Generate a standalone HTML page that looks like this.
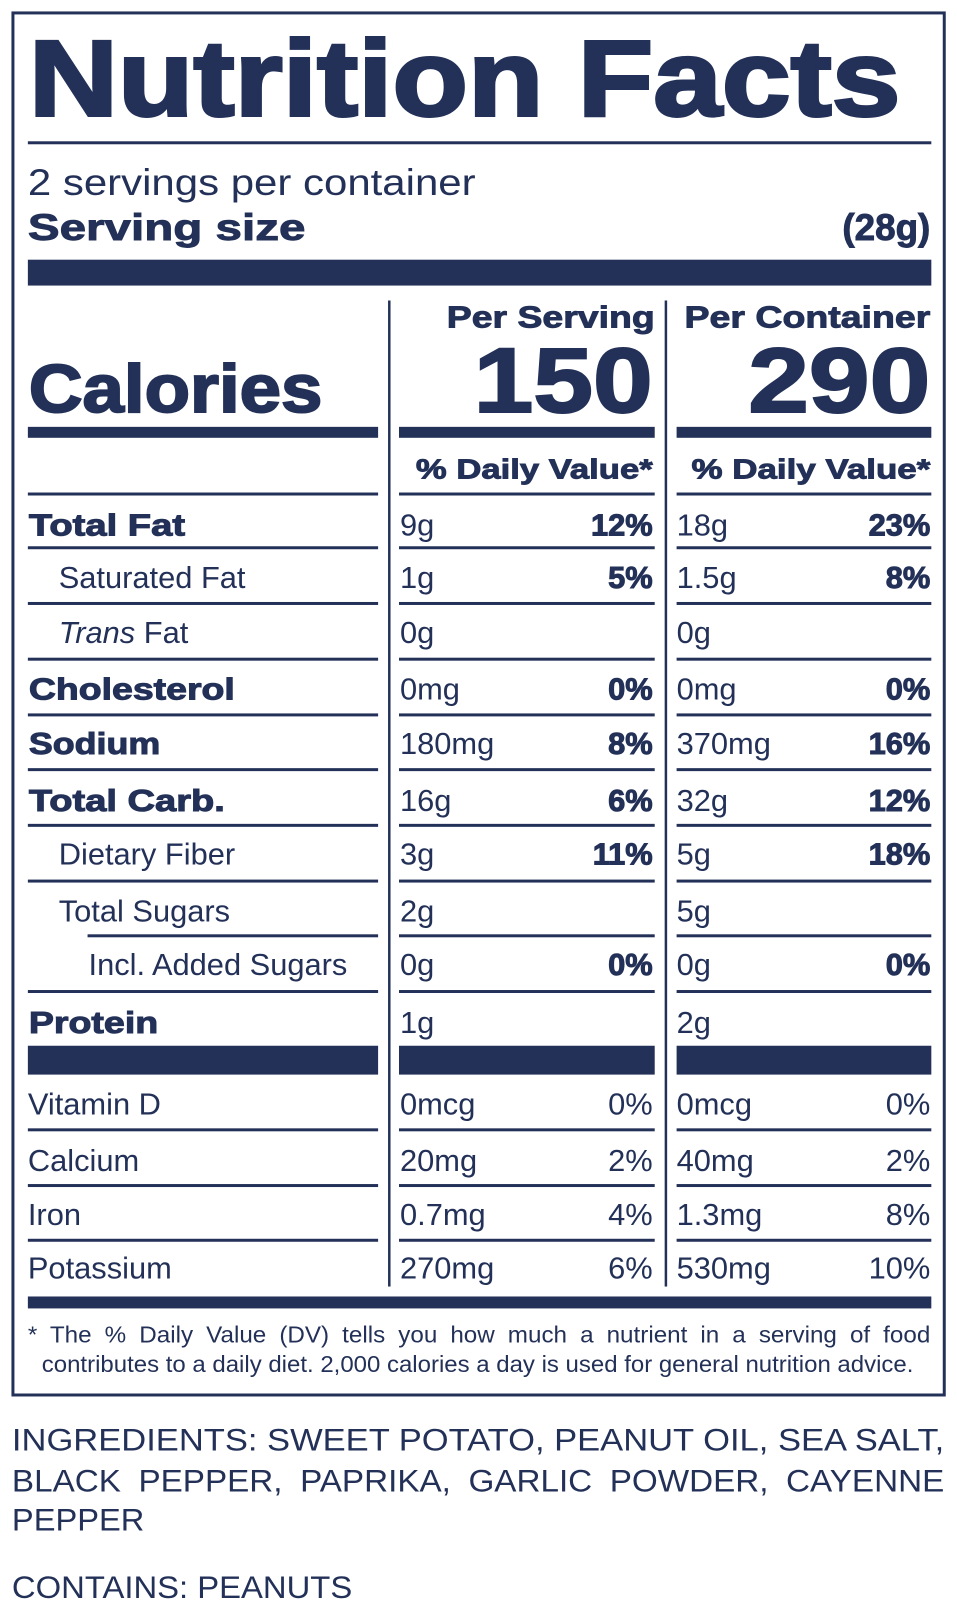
<!DOCTYPE html>
<html><head><meta charset="utf-8"><style>
html,body{margin:0;padding:0;background:#fff;}
svg{display:block;}
text{font-family:"Liberation Sans",Arial,sans-serif;fill:#233158;}
.b{font-weight:bold;stroke:#233158;stroke-width:0.9;}
.r{font-size:31px;}
.bb{font-size:31px;font-weight:bold;stroke:#233158;stroke-width:1;}
</style></head><body>
<svg width="957" height="1612" viewBox="0 0 957 1612" xmlns="http://www.w3.org/2000/svg">
<g transform="scale(0.995)">
<rect x="13" y="13" width="936" height="1389" fill="none" stroke="#233158" stroke-width="3"/>
<text x="29" y="116" font-size="108" font-weight="bold" stroke="#233158" stroke-width="3" textLength="876" lengthAdjust="spacingAndGlyphs">Nutrition Facts</text>
<rect x="28" y="142" width="908" height="3" fill="#233158"/>
<text x="28" y="196" font-size="37" textLength="450" lengthAdjust="spacingAndGlyphs">2 servings per container</text>
<text x="28" y="241" font-size="37" class="b" textLength="279" lengthAdjust="spacingAndGlyphs">Serving size</text>
<text x="935" y="241" font-size="37" class="b" text-anchor="end">(28g)</text>
<rect x="28" y="261" width="908" height="26" fill="#233158"/>
<rect x="390" y="302" width="2.5" height="991" fill="#233158"/>
<rect x="668" y="302" width="2.5" height="991" fill="#233158"/>
<text x="449" y="329" font-size="31" class="b" textLength="209" lengthAdjust="spacingAndGlyphs">Per Serving</text>
<text x="688" y="329" font-size="31" class="b" textLength="247" lengthAdjust="spacingAndGlyphs">Per Container</text>
<text x="29" y="414" font-size="68" font-weight="bold" stroke="#233158" stroke-width="2" textLength="295" lengthAdjust="spacingAndGlyphs">Calories</text>
<text x="476" y="414" font-size="92" font-weight="bold" stroke="#233158" stroke-width="2" textLength="180" lengthAdjust="spacingAndGlyphs">150</text>
<text x="752" y="414" font-size="92" font-weight="bold" stroke="#233158" stroke-width="2" textLength="183" lengthAdjust="spacingAndGlyphs">290</text>
<rect x="28" y="429" width="352" height="11" fill="#233158"/>
<rect x="401" y="429" width="257" height="11" fill="#233158"/>
<rect x="680" y="429" width="256" height="11" fill="#233158"/>
<text x="418" y="481" font-size="28" class="b" textLength="238" lengthAdjust="spacingAndGlyphs">% Daily Value*</text>
<text x="695" y="481" font-size="28" class="b" textLength="240" lengthAdjust="spacingAndGlyphs">% Daily Value*</text>
<g fill="#233158">
<rect x="28" y="495" width="352" height="3"/><rect x="401" y="495" width="257" height="3"/><rect x="680" y="495" width="256" height="3"/>
<rect x="28" y="549" width="352" height="3"/><rect x="401" y="549" width="257" height="3"/><rect x="680" y="549" width="256" height="3"/>
<rect x="28" y="605" width="352" height="3"/><rect x="401" y="605" width="257" height="3"/><rect x="680" y="605" width="256" height="3"/>
<rect x="28" y="661" width="352" height="3"/><rect x="401" y="661" width="257" height="3"/><rect x="680" y="661" width="256" height="3"/>
<rect x="28" y="717" width="352" height="3"/><rect x="401" y="717" width="257" height="3"/><rect x="680" y="717" width="256" height="3"/>
<rect x="28" y="772" width="352" height="3"/><rect x="401" y="772" width="257" height="3"/><rect x="680" y="772" width="256" height="3"/>
<rect x="28" y="828" width="352" height="3"/><rect x="401" y="828" width="257" height="3"/><rect x="680" y="828" width="256" height="3"/>
<rect x="28" y="884" width="352" height="3"/><rect x="401" y="884" width="257" height="3"/><rect x="680" y="884" width="256" height="3"/>
<rect x="88" y="939" width="292" height="3"/><rect x="401" y="939" width="257" height="3"/><rect x="680" y="939" width="256" height="3"/>
<rect x="28" y="995" width="352" height="3"/><rect x="401" y="995" width="257" height="3"/><rect x="680" y="995" width="256" height="3"/>
<rect x="28" y="1051" width="352" height="29"/><rect x="401" y="1051" width="257" height="29"/><rect x="680" y="1051" width="256" height="29"/>
<rect x="28" y="1134" width="352" height="3"/><rect x="401" y="1134" width="257" height="3"/><rect x="680" y="1134" width="256" height="3"/>
<rect x="28" y="1190" width="352" height="3"/><rect x="401" y="1190" width="257" height="3"/><rect x="680" y="1190" width="256" height="3"/>
<rect x="28" y="1245" width="352" height="3"/><rect x="401" y="1245" width="257" height="3"/><rect x="680" y="1245" width="256" height="3"/>
<rect x="28" y="1303" width="908" height="12"/>
</g>
<text x="29" y="538" class="bb" textLength="157" lengthAdjust="spacingAndGlyphs">Total Fat</text>
<text x="59" y="591" class="r">Saturated Fat</text>
<text x="59" y="646" class="r"><tspan font-style="italic">Trans</tspan> Fat</text>
<text x="29" y="703" class="bb" textLength="207" lengthAdjust="spacingAndGlyphs">Cholesterol</text>
<text x="29" y="758" class="bb" textLength="132" lengthAdjust="spacingAndGlyphs">Sodium</text>
<text x="29" y="815" class="bb" textLength="197" lengthAdjust="spacingAndGlyphs">Total Carb.</text>
<text x="59" y="869" class="r">Dietary Fiber</text>
<text x="59" y="926" class="r">Total Sugars</text>
<text x="89" y="980" class="r">Incl. Added Sugars</text>
<text x="29" y="1038" class="bb" textLength="130" lengthAdjust="spacingAndGlyphs">Protein</text>
<text x="28" y="1120" class="r">Vitamin D</text>
<text x="28" y="1177" class="r">Calcium</text>
<text x="28" y="1231" class="r">Iron</text>
<text x="28" y="1285" class="r">Potassium</text>
<text x="402" y="538" class="r">9g</text><text x="402" y="591" class="r">1g</text><text x="402" y="646" class="r">0g</text>
<text x="402" y="703" class="r">0mg</text><text x="402" y="758" class="r">180mg</text><text x="402" y="815" class="r">16g</text>
<text x="402" y="869" class="r">3g</text><text x="402" y="926" class="r">2g</text><text x="402" y="980" class="r">0g</text>
<text x="402" y="1038" class="r">1g</text>
<text x="402" y="1120" class="r">0mcg</text><text x="402" y="1177" class="r">20mg</text><text x="402" y="1231" class="r">0.7mg</text><text x="402" y="1285" class="r">270mg</text>
<g text-anchor="end">
<text x="656" y="538" class="bb">12%</text><text x="656" y="591" class="bb">5%</text><text x="656" y="703" class="bb">0%</text>
<text x="656" y="758" class="bb">8%</text><text x="656" y="815" class="bb">6%</text><text x="656" y="869" class="bb">11%</text>
<text x="656" y="980" class="bb">0%</text>
<text x="656" y="1120" class="r">0%</text><text x="656" y="1177" class="r">2%</text><text x="656" y="1231" class="r">4%</text><text x="656" y="1285" class="r">6%</text>
</g>
<text x="680" y="538" class="r">18g</text><text x="680" y="591" class="r">1.5g</text><text x="680" y="646" class="r">0g</text>
<text x="680" y="703" class="r">0mg</text><text x="680" y="758" class="r">370mg</text><text x="680" y="815" class="r">32g</text>
<text x="680" y="869" class="r">5g</text><text x="680" y="926" class="r">5g</text><text x="680" y="980" class="r">0g</text>
<text x="680" y="1038" class="r">2g</text>
<text x="680" y="1120" class="r">0mcg</text><text x="680" y="1177" class="r">40mg</text><text x="680" y="1231" class="r">1.3mg</text><text x="680" y="1285" class="r">530mg</text>
<g text-anchor="end">
<text x="935" y="538" class="bb">23%</text><text x="935" y="591" class="bb">8%</text><text x="935" y="703" class="bb">0%</text>
<text x="935" y="758" class="bb">16%</text><text x="935" y="815" class="bb">12%</text><text x="935" y="869" class="bb">18%</text>
<text x="935" y="980" class="bb">0%</text>
<text x="935" y="1120" class="r">0%</text><text x="935" y="1177" class="r">2%</text><text x="935" y="1231" class="r">8%</text><text x="935" y="1285" class="r">10%</text>
</g>
<text x="28" y="1349" font-size="23" textLength="907" lengthAdjust="spacingAndGlyphs" word-spacing="6">* The % Daily Value (DV) tells you how much a nutrient in a serving of food</text>
<text x="42" y="1379" font-size="23" textLength="876" lengthAdjust="spacingAndGlyphs">contributes to a daily diet. 2,000 calories a day is used for general nutrition advice.</text>
<text x="12" y="1458" font-size="32" textLength="937" lengthAdjust="spacingAndGlyphs">INGREDIENTS: SWEET POTATO, PEANUT OIL, SEA SALT,</text>
<text x="12" y="1499" font-size="32" textLength="937" lengthAdjust="spacingAndGlyphs" word-spacing="8">BLACK PEPPER, PAPRIKA, GARLIC POWDER, CAYENNE</text>
<text x="12" y="1538" font-size="32" textLength="133" lengthAdjust="spacingAndGlyphs">PEPPER</text>
<text x="12" y="1606" font-size="32" textLength="342" lengthAdjust="spacingAndGlyphs">CONTAINS: PEANUTS</text>
</g>
</svg>
</body></html>
